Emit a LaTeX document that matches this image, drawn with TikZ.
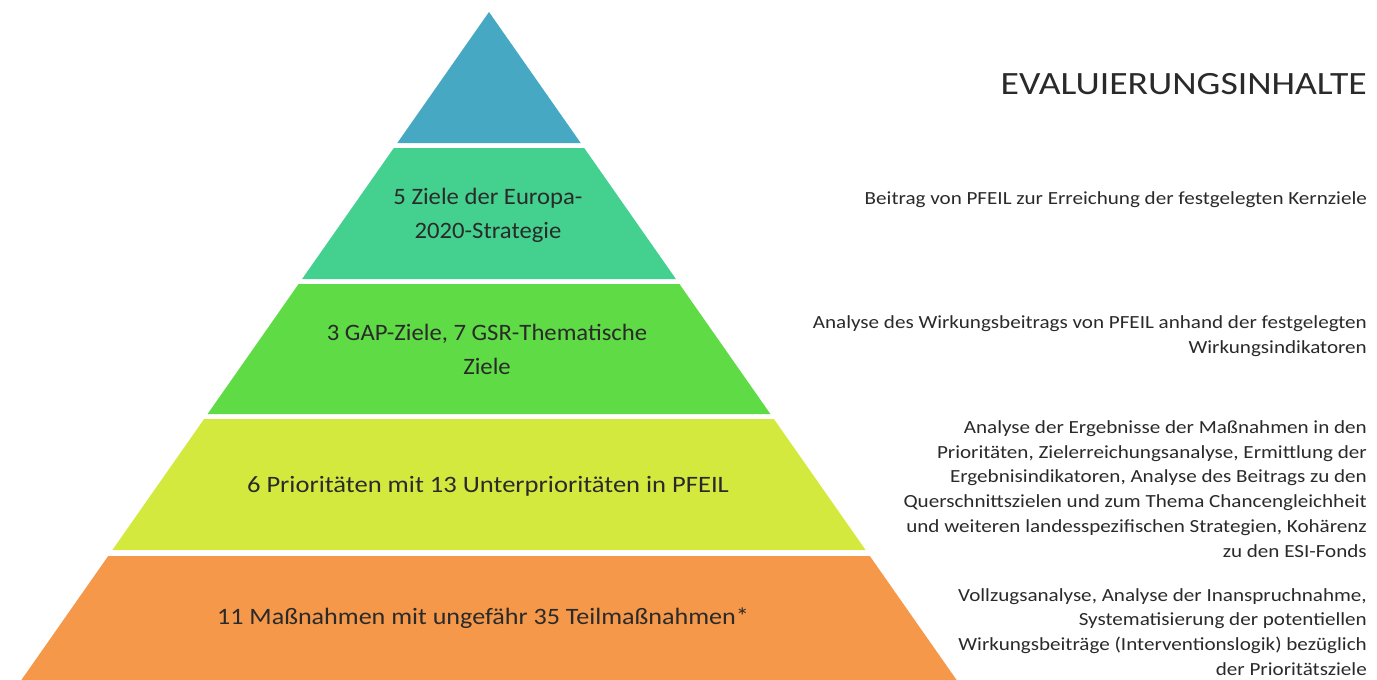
\documentclass[tikz,border=0pt]{standalone}
\usepackage{fontspec}
\setmainfont{Carlito}
\newfontfamily\descfont[FakeStretch=1.14]{Carlito}
\newfontfamily\tierfont[FakeStretch=1.05]{Carlito}
\newfontfamily\tierwidefont[FakeStretch=1.13]{Carlito}
\newfontfamily\tierwiderfont[FakeStretch=1.11]{Carlito}
\newfontfamily\titlefont[FakeStretch=1.16]{Carlito}
\definecolor{tierA}{HTML}{46A8C2}
\definecolor{tierB}{HTML}{44D18F}
\definecolor{tierC}{HTML}{5EDB45}
\definecolor{tierD}{HTML}{D4E93E}
\definecolor{tierE}{HTML}{F5984A}
\definecolor{txt}{HTML}{2A2A2A}
\begin{document}
\begin{tikzpicture}[x=1pt,y=-1pt,
  tiertext/.style={text=txt,font=\tierfont\fontsize{23.5}{34}\selectfont,align=center,inner sep=0pt},
  desc/.style={text=txt,font=\descfont\fontsize{18.5}{24.8}\selectfont,align=right,anchor=east,inner sep=0pt},
  title/.style={text=txt,font=\titlefont\fontsize{32.5}{36}\selectfont,anchor=east,inner sep=0pt}]
\useasboundingbox (0,0) rectangle (1377,680);
\fill[white] (0,0) rectangle (1377,680);
% pyramid tiers: half width = 0.7*(y-12), apex at x=489
\fill[tierA] (489,12) -- (580.7,143) -- (397.3,143) -- cycle;
\fill[tierB] (393.8,148) -- (584.2,148) -- (675.9,279) -- (302.1,279) -- cycle;
\fill[tierC] (298.6,284) -- (679.4,284) -- (770.4,414) -- (207.6,414) -- cycle;
\fill[tierD] (204.1,419) -- (773.9,419) -- (865.6,550) -- (112.4,550) -- cycle;
\fill[tierE] (108.2,556) -- (869.8,556) -- (956.6,680) -- (21.4,680) -- cycle;
% tier labels
\node[tiertext] (t2) at (488,215) {5 Ziele der Europa-\\2020-Strategie};
\node[tiertext] (t3) at (487,349) {3 GAP-Ziele, 7 GSR-Thematische\\Ziele};
\node[tiertext,font=\tierwidefont\fontsize{23.5}{34}\selectfont] (t4) at (488,486) {6 Prioritäten mit 13 Unterprioritäten in PFEIL};
\node[tiertext,font=\tierwiderfont\fontsize{23.5}{34}\selectfont] (t5) at (483,618) {11 Maßnahmen mit ungefähr 35 Teilmaßnahmen*};
% right column
\node[title] (title) at (1367,84) {EVALUIERUNGSINHALTE};
\node[desc] (d1) at (1367,200) {Beitrag von PFEIL zur Erreichung der festgelegten Kernziele};
\node[desc] (d2) at (1367,336) {Analyse des Wirkungsbeitrags von PFEIL anhand der festgelegten\\Wirkungsindikatoren};
\node[desc] (d3) at (1367,489) {Analyse der Ergebnisse der Maßnahmen in den\\Prioritäten, Zielerreichungsanalyse, Ermittlung der\\Ergebnisindikatoren, Analyse des Beitrags zu den\\Querschnittszielen und zum Thema Chancengleichheit\\und weiteren landesspezifischen Strategien, Kohärenz\\zu den ESI-Fonds};
\node[desc] (d4) at (1367,632) {Vollzugsanalyse, Analyse der Inanspruchnahme,\\Systematisierung der potentiellen\\Wirkungsbeiträge (Interventionslogik) bezüglich\\der Prioritätsziele};
\end{tikzpicture}
\end{document}
